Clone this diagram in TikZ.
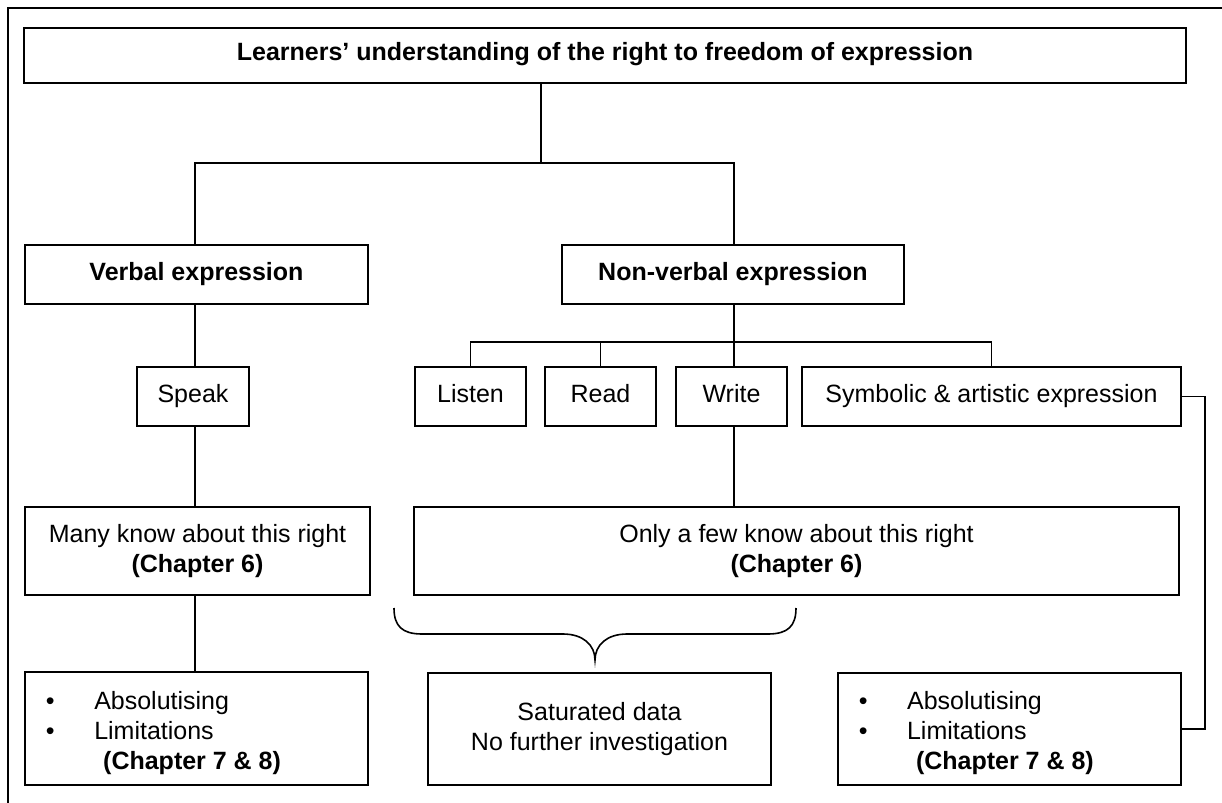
\documentclass[tikz,border=0pt]{standalone}
\usepackage{fontspec}
\setmainfont{Liberation Sans}
\begin{document}
\begin{tikzpicture}[x=0.5pt,y=-0.5pt,
  box/.style={draw, line width=0.9pt, inner sep=0pt, align=center},
  onebox/.style={box, text height=9pt, text depth=3.5pt},
  conn/.style={line width=0.9pt},
  frameline/.style={line width=0.8pt},
  bul/.style={anchor=base west, inner sep=0pt},
  font=\fontsize{12.5pt}{15pt}\selectfont]
\useasboundingbox (0,0) rectangle (1222,803);
% outer frame
\coordinate (f1) at (8,803);
\coordinate (f2) at (8,8);
\coordinate (f3) at (1222,8);
\draw[frameline] (f1) -- (f2) -- (f3);

% boxes
\node[onebox, minimum width=581pt, minimum height=27.5pt] (title) at (605,55.5)
  {\textbf{Learners’ understanding of the right to freedom of expression}};
\node[onebox, minimum width=171.5pt, minimum height=29.5pt] (verbal) at (196.5,274.5)
  {\textbf{Verbal expression}};
\node[onebox, minimum width=171pt, minimum height=29.5pt] (nonverbal) at (733,274.5)
  {\textbf{Non-verbal expression}};
\node[onebox, minimum width=56pt, minimum height=29.5pt] (speak) at (193,396.5) {Speak};
\node[onebox, minimum width=55.5pt, minimum height=29.5pt] (listen) at (470.5,396.5) {Listen};
\node[onebox, minimum width=55.5pt, minimum height=29.5pt] (read) at (600.5,396.5) {Read};
\node[onebox, minimum width=55.5pt, minimum height=29.5pt] (write) at (731.5,396.5) {Write};
\node[onebox, minimum width=189.5pt, minimum height=29.5pt] (symb) at (991.5,396.5)
  {Symbolic \& artistic expression};
\node[box, minimum width=172.5pt, minimum height=44pt] (many) at (197.5,551)
  {Many know about this right\\\textbf{(Chapter 6)}};
\node[box, minimum width=382.5pt, minimum height=44pt] (few) at (796.5,551)
  {Only a few know about this right\\\textbf{(Chapter 6)}};
\node[box, minimum width=171.5pt, minimum height=56.5pt] (bl) at (196.5,728.5) {};
\node[box, minimum width=171.5pt, minimum height=56pt] (sat) at (599.5,729)
  {Saturated data\\No further investigation};
\node[box, minimum width=171.5pt, minimum height=56pt] (br) at (1009.5,729) {};

% bullet texts
\node[bul] (bl1) at (45.6,709) {\makebox[24.15pt][l]{•}Absolutising};
\node[bul] (bl2) at (45.6,739) {\makebox[24.15pt][l]{•}Limitations};
\node[bul] (bl3) at (45.6,769) {\hspace{28.6pt}\textbf{(Chapter 7 \& 8)}};
\node[bul] (br1) at (858.4,709) {\makebox[24.15pt][l]{•}Absolutising};
\node[bul] (br2) at (858.4,739) {\makebox[24.15pt][l]{•}Limitations};
\node[bul] (br3) at (858.4,769) {\hspace{28.6pt}\textbf{(Chapter 7 \& 8)}};

% connectors
\coordinate (j0) at (541,163);
\coordinate (j1) at (734,342);
\coordinate (c1) at (1205,729);
\coordinate (sx) at (195,0);
\draw[conn] (title.south -| j0) -- (j0);
\draw[conn] (verbal.north -| sx) |- (j0) -| (nonverbal.north -| j1);
\draw[conn] (verbal.south -| sx) -- (speak.north -| sx);
\draw[conn] (speak.south -| sx) -- (many.north -| sx);
\draw[conn] (many.south -| sx) -- (bl.north -| sx);
\draw[conn] (nonverbal.south -| j1) -- (j1);
\draw[conn] (listen.north) |- (j1) -| (symb.north);
\draw[conn] (read.north) -- (read.north |- j1);
\draw[conn] (write.north -| j1) -- (j1);
\draw[conn] (write.south -| j1) -- (few.north -| j1);
\draw[conn] (symb.east) -| (c1) -- (br.east |- c1);

% brace
\coordinate (bra) at (394,608);
\coordinate (brb) at (796,608);
\coordinate (brt) at (595,660);
\draw[line width=0.8pt] (bra) .. controls (394,626) and (402,634) .. (422,634)
  -- (563,634) .. controls (583,634) and (595,645) .. (brt)
  .. controls (595,645) and (607,634) .. (627,634)
  -- (768,634) .. controls (788,634) and (796,626) .. (brb);
\end{tikzpicture}
\end{document}
